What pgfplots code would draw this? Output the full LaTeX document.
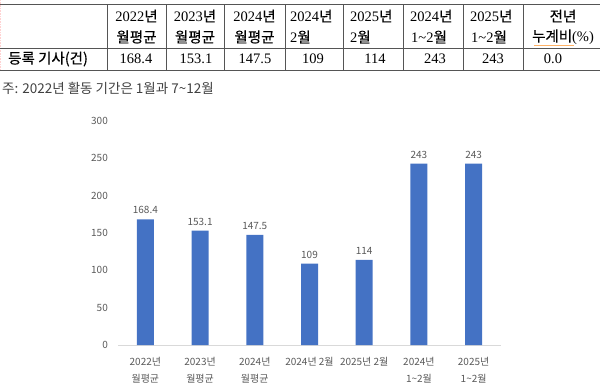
\documentclass[border=0pt]{standalone}
\usepackage{pgfplots}
\pgfplotsset{compat=1.18}
\usepackage{fontspec}
\setmainfont{Liberation Serif}
\newfontfamily\kr{Noto Sans CJK KR}
\newfontfamily\krb{Noto Sans CJK KR}[FakeBold=0.45]
\definecolor{barblue}{HTML}{4472C4}
\definecolor{txtgray}{HTML}{595959}
\definecolor{axgray}{HTML}{D9D9D9}
\definecolor{tblline}{HTML}{555555}
\definecolor{notegray}{HTML}{404040}
\begin{document}
\begin{tikzpicture}
\useasboundingbox (0pt,0pt) rectangle (600pt,-389pt);
\begin{scope}[x=1pt,y=-1pt]
  % table lines
  \draw[pink!70, densely dotted, line width=0.6pt] (0.5,0) -- (0.5,70);
  \draw[tblline, line width=0.8pt] (0,4) -- (600,4);
  \draw[tblline, line width=0.8pt] (0,48) -- (600,48);
  \draw[tblline, line width=0.8pt] (0,70) -- (600,70);
  \foreach \xx in {107,166,224,285,343,403,463,523}
    \draw[tblline, line width=0.8pt] (\xx,4) -- (\xx,70);
  \begin{scope}[every node/.style={inner sep=0pt, font=\fontsize{14.5}{16}\selectfont}]
  % header
  \node at (136.5,16) {2022{\krb 년}};
  \node at (136.5,37) {\krb 월평균};
  \node at (195,16) {2023{\krb 년}};
  \node at (195,37) {\krb 월평균};
  \node at (254.5,16) {2024{\krb 년}};
  \node at (254.5,37) {\krb 월평균};
  \node[anchor=west] at (290,16) {2024{\krb 년}};
  \node[anchor=west] at (290,37) {2{\krb 월}};
  \node[anchor=west] at (350,16) {2025{\krb 년}};
  \node[anchor=west] at (350,37) {2{\krb 월}};
  \node[anchor=west] at (410,16) {2024{\krb 년}};
  \node[anchor=west] at (411,37) {1\textasciitilde 2{\krb 월}};
  \node[anchor=west] at (470,16) {2025{\krb 년}};
  \node[anchor=west] at (471,37) {1\textasciitilde 2{\krb 월}};
  \node at (563,16) {\krb 전년};
  \node at (563,37) {{\krb 누계비}(\%)};
  % data row
  \node[anchor=west] at (8,59) {\krb 등록 기사(건)};
  \node at (136,59) {168.4};
  \node at (196,59) {153.1};
  \node at (255,59) {147.5};
  \node at (313,59) {109};
  \node at (375,59) {114};
  \node at (435,59) {243};
  \node at (493,59) {243};
  \node at (553,59) {0.0};
  \end{scope}
  \draw[orange!60, line width=0.5pt] (534,45) -- (574,45);
  % note
  \node[anchor=west, inner sep=0pt, text=notegray, font=\kr\fontsize{13.5}{15}\selectfont] at (2,88) {주: 2022년 활동 기간은 1월과 7\textasciitilde 12월};
\end{scope}
\begin{axis}[
  at={(118pt,-345pt)}, anchor=south west,
  scale only axis, width=383pt, height=224pt,
  xmin=-0.5, xmax=6.5, ymin=0, ymax=300,
  ybar, bar width=17pt,
  axis x line=bottom, axis y line=left,
  x axis line style={draw=axgray, line width=1pt, -},
  y axis line style={draw=none},
  major tick length=0pt,
  tick style={draw=none},
  /pgf/number format/assume math mode=true,
  ytick={0,50,100,150,200,250,300},
  xtick={0,1,2,3,4,5,6},
  xticklabels={{2022년\\월평균},{2023년\\월평균},{2024년\\월평균},{2024년 2월},{2025년 2월},{2024년\\1\textasciitilde 2월},{2025년\\1\textasciitilde 2월}},
  xticklabel style={anchor=north, inner sep=0pt, yshift=-12pt, align=center, text=txtgray, font=\kr\fontsize{10}{17}\selectfont},
  yticklabel style={anchor=east, inner sep=0pt, xshift=-10pt, text=txtgray, font=\kr\fontsize{10}{12}\selectfont},
  nodes near coords, point meta=explicit symbolic,
  every node near coord/.append style={text=txtgray, font=\kr\fontsize{10}{12}\selectfont, inner sep=2pt, yshift=3pt},
  clip=false,
]
\addplot[fill=barblue, draw=none] coordinates {
  (0,168.4) [168.4]
  (1,153.1) [153.1]
  (2,147.5) [147.5]
  (3,109) [109]
  (4,114) [114]
  (5,243) [243]
  (6,243) [243]
};
\end{axis}
\end{tikzpicture}
\end{document}
